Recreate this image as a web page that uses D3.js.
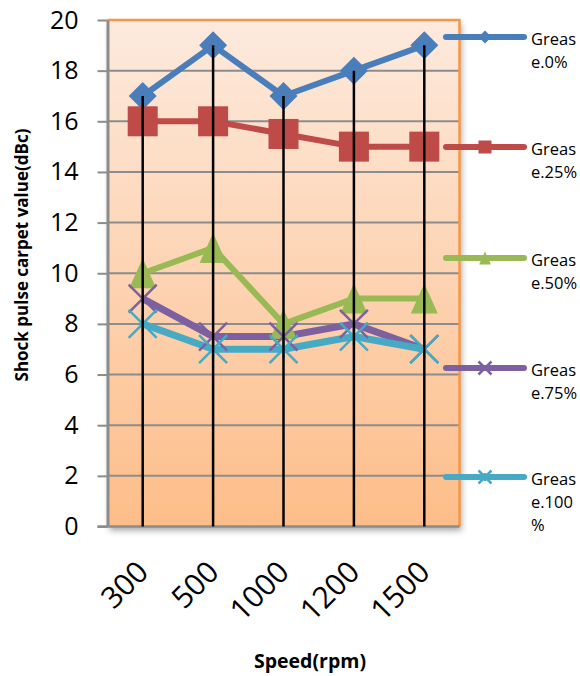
<!DOCTYPE html>
<html><head><meta charset="utf-8">
<script src="https://cdn.jsdelivr.net/npm/d3@7"></script>
<style>body{margin:0;background:#fff}svg{display:block}</style>
</head><body>
<svg id="chart" width="580" height="676"></svg>
<script>
const categories = ["300", "500", "1000", "1200", "1500"];
const seriesNames = ["Greas e.0%", "Greas e.25%", "Greas e.50%", "Greas e.75%", "Greas e.100 %"];
const legendLines = [["Greas","e.0%"],["Greas","e.25%"],["Greas","e.50%"],["Greas","e.75%"],["Greas","e.100","%"]];
const grease0 = [17, 19, 17, 18, 19];
const grease25 = [16, 16, 15.5, 15, 15];
const grease50 = [10, 11, 8, 9, 9];
const grease75 = [9, 7.5, 7.5, 8, 7];
const grease100 = [8, 7, 7, 7.5, 7];
const yTicks = [0, 2, 4, 6, 8, 10, 12, 14, 16, 18, 20];
const colors = ["#4a7ebb", "#be4b48", "#98b954", "#7d60a0", "#46aac5"];
const markers = ["diamond", "square", "triangle", "x", "star"];

const series = [grease0, grease25, grease50, grease75, grease100];
const svg = d3.select("#chart");
const L = 107.5, R = 459.5, T = 20, B = 526.5;
const FONT = "'Open Sans', sans-serif";

const x = d3.scaleBand().domain(categories).range([L, R]);
const y = d3.scaleLinear().domain([0, 20]).range([B, T]);

const defs = svg.append("defs");
const grad = defs.append("linearGradient").attr("id","bg").attr("x1",0).attr("y1",0).attr("x2",0).attr("y2",1);
grad.append("stop").attr("offset","0%").attr("stop-color","#fdeadd");
grad.append("stop").attr("offset","100%").attr("stop-color","#fdbd89");
const f = defs.append("filter").attr("id","sh").attr("x","-5%").attr("y","-5%").attr("width","115%").attr("height","115%");
f.append("feDropShadow").attr("dx",2).attr("dy",4).attr("stdDeviation",3).attr("flood-color","#000").attr("flood-opacity",0.35);

// plot background
svg.append("rect").attr("x", L).attr("y", T).attr("width", R - L).attr("height", B - T)
  .attr("fill", "url(#bg)").attr("filter","url(#sh)");

// gridlines
svg.append("g").selectAll("line").data(yTicks.filter(d => d > 0 && d < 20)).join("line")
  .attr("x1", L).attr("x2", R).attr("y1", d => y(d)).attr("y2", d => y(d))
  .attr("stroke", "#8c8c8c").attr("stroke-width", 2);

// orange border top/right
svg.append("path").attr("d", `M${L},${T}H${R}V${B}`).attr("fill","none").attr("stroke","#f79646").attr("stroke-width",2.5);

// y axis
const yAxis = d3.axisLeft(y).tickValues(yTicks).tickSize(10).tickSizeOuter(0).tickFormat(d3.format("d"));
const gy = svg.append("g").attr("transform", `translate(${L},0)`).call(yAxis);
gy.select(".domain").attr("stroke", "#8c8c8c").attr("stroke-width", 3);
gy.selectAll(".tick line").attr("stroke", "#8c8c8c").attr("stroke-width", 2);
gy.selectAll(".tick text").attr("font-family", FONT).attr("font-size", 25).attr("fill", "#000").attr("x", -29);

// x axis
const xAxis = d3.axisBottom(x).tickSize(0).tickSizeOuter(0);
const gx = svg.append("g").attr("transform", `translate(0,${B})`).call(xAxis);
gx.select(".domain").attr("d", `M${L - 10},0H${R}`).attr("stroke", "#8c8c8c").attr("stroke-width", 2.5);
gx.selectAll(".tick text").attr("font-family", FONT).attr("font-size", 30).attr("fill", "#000")
  .attr("text-anchor", "end").attr("dy", "0.35em").attr("transform", "translate(0,40) rotate(-45)").attr("y", 0).attr("x", 0);

// series lines
const line = d3.line().x((d, i) => x(categories[i]) + x.bandwidth() / 2).y(d => y(d));
series.forEach((s, k) => {
  svg.append("path").datum(s).attr("d", line).attr("fill", "none")
    .attr("stroke", colors[k]).attr("stroke-width", k >= 3 ? 7 : 6).attr("stroke-linejoin", "round");
});

function drawMarker(g, type, cx, cy, size, color) {
  const h = size / 2;
  if (type === "diamond") {
    g.append("path").attr("d", `M${cx},${cy - h}L${cx + h},${cy}L${cx},${cy + h}L${cx - h},${cy}Z`).attr("fill", color);
  } else if (type === "square") {
    g.append("rect").attr("x", cx - h).attr("y", cy - h).attr("width", size).attr("height", size).attr("fill", color);
  } else if (type === "triangle") {
    g.append("path").attr("d", `M${cx},${cy - h}L${cx + h * 0.9},${cy + h}L${cx - h * 0.9},${cy + h}Z`).attr("fill", color);
  } else if (type === "x") {
    g.append("path").attr("d", `M${cx - h},${cy - h}L${cx + h},${cy + h}M${cx - h},${cy + h}L${cx + h},${cy - h}`).attr("stroke", color).attr("stroke-width", 2.5);
  } else if (type === "star") {
    g.append("path").attr("d", `M${cx - h},${cy - h}L${cx + h},${cy + h}M${cx - h},${cy + h}L${cx + h},${cy - h}M${cx},${cy - h * 0.6}V${cy + h * 0.6}`).attr("stroke", color).attr("stroke-width", 2.5);
  }
}

const sizes = [28, 30, 30, 28, 28];
series.forEach((s, k) => {
  const g = svg.append("g");
  s.forEach((v, i) => drawMarker(g, markers[k], x(categories[i]) + x.bandwidth() / 2, y(v), sizes[k], colors[k]));
});

// drop lines from max value down to axis
svg.append("g").selectAll("line").data(categories).join("line")
  .attr("x1", d => x(d) + x.bandwidth() / 2).attr("x2", d => x(d) + x.bandwidth() / 2)
  .attr("y1", (d, i) => y(d3.max(series, s => s[i]))).attr("y2", y(0))
  .attr("stroke", "#000").attr("stroke-width", 2.5);

// axis titles
svg.append("text").attr("transform", `translate(28,255) rotate(-90)`).attr("text-anchor", "middle")
  .attr("font-family", FONT).attr("font-weight", "bold").attr("font-size", 17).text("Shock pulse carpet value(dBc)");
svg.append("text").attr("x", 310).attr("y", 668).attr("text-anchor", "middle")
  .attr("font-family", FONT).attr("font-weight", "bold").attr("font-size", 19.5).text("Speed(rpm)");

// legend
const legendY = [37, 147, 258, 368, 477];
legendLines.forEach((lines, k) => {
  const g = svg.append("g");
  g.append("line").attr("x1", 446).attr("x2", 524).attr("y1", legendY[k]).attr("y2", legendY[k])
    .attr("stroke", colors[k]).attr("stroke-width", 6).attr("stroke-linecap", "round");
  drawMarker(g, markers[k], 485, legendY[k], 13, colors[k]);
  lines.forEach((t, j) => {
    g.append("text").attr("x", 531).attr("y", legendY[k] + 8 + j * 23)
      .attr("font-family", FONT).attr("font-size", 16.5).attr("fill", "#000").text(t);
  });
});
</script>
</body></html>
